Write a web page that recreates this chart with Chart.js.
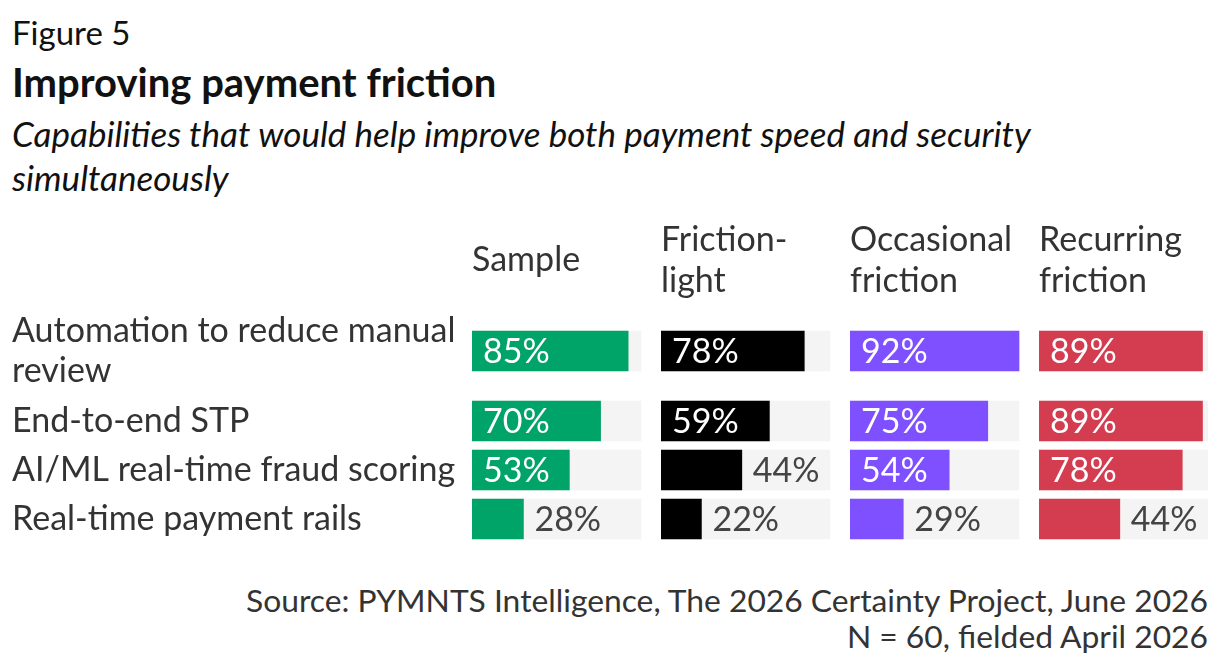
<!DOCTYPE html>
<html>
<head>
<meta charset="utf-8">
<script src="https://cdn.jsdelivr.net/npm/chart.js@4.4.1/dist/chart.umd.min.js"></script>
<style>
  body { margin: 0; background: #fff; font-family: Lato, sans-serif; }
  .page { position: relative; width: 1220px; height: 666px; overflow: hidden; }
  .fig { position: absolute; left: 12px; top: 12px; font-size: 33px; line-height: 40px; color: #111; }
  .title { position: absolute; left: 12px; top: 58px; font-size: 40px; line-height: 48px; font-weight: bold; color: #111; }
  .subtitle { position: absolute; left: 12px; top: 111px; width: 1100px; font-size: 35px; line-height: 44px; font-style: italic; color: #111; }
  .chartBox { position: absolute; left: 0; top: 210px; width: 1220px; height: 345px; }
  .source { position: absolute; right: 12px; top: 582px; font-size: 31.8px; line-height: 36px; text-align: right; color: #333; }
</style>
</head>
<body>
<div class="page">
  <div class="fig">Figure 5</div>
  <div class="title">Improving payment friction</div>
  <div class="subtitle">Capabilities that would help improve both payment speed and security simultaneously</div>
  <div class="chartBox"><canvas id="grafico"></canvas></div>
  <div class="source">Source: PYMNTS Intelligence, The 2026 Certainty Project, June 2026<br>N = 60, fielded April 2026</div>
</div>
<script>
// capabilities (rows), label lines as shown
const capacidades = [
  ["Automation to reduce manual", "review"],
  ["End-to-end STP"],
  ["AI/ML real-time fraud scoring"],
  ["Real-time payment rails"]
];

// segments (panels), header lines
const grupos = [["Sample"], ["Friction-", "light"], ["Occasional", "friction"], ["Recurring", "friction"]];

// share of respondents (%)
const muestra = [85, 70, 53, 28];
const friccionLeve = [78, 59, 44, 22];
const friccionOcasional = [92, 75, 54, 29];
const friccionRecurrente = [89, 89, 78, 44];

const series = [muestra, friccionLeve, friccionOcasional, friccionRecurrente];
const colores = ["#00A468", "#000000", "#7F50FF", "#D43C50"];

document.addEventListener("DOMContentLoaded", () => {
  const fuente = "Lato";
  const tam = 34;
  Chart.defaults.font.family = fuente;

  // row heights follow label line count
  const altos = capacidades.map(c => c.length * 42 + 7);
  const centros = [];
  let acum = 0;
  altos.forEach(h => { centros.push(acum + h / 2); acum += h; });
  const totalAlto = acum;

  const maxPista = Math.max(...series.flat());
  const hueco = maxPista * 20 / 169;   // gap between panels in value units
  const maxHeaderLines = Math.max(...grupos.map(g => g.length));

  const datasets = [];
  const scales = {
    y: {
      type: "linear",
      reverse: true,
      offset: false,
      min: 0,
      max: totalAlto,
      grid: { display: false },
      border: { display: false },
      afterBuildTicks: s => { s.ticks = centros.map(v => ({ value: v })); },
      afterFit: s => {
        s.width = 460;
        s.paddingTop = 0;
        s.paddingBottom = 0;
      },
      ticks: {
        autoSkip: false,
        crossAlign: "far",
        color: "#333",
        font: { size: tam, lineHeight: 1.18 },
        callback: (v, i) => capacidades[i]
      }
    }
  };

  // top boxes are laid out last-first, so add the panel axes in reverse
  for (let p = series.length - 1; p >= 0; p--) {
    const maxEje = p < series.length - 1 ? maxPista + hueco : maxPista;
    scales["x" + p] = {
      type: "linear",
      position: "top",
      stack: "paneles",
      stackWeight: maxEje,
      min: 0,
      max: maxEje,
      grid: { display: false, drawTicks: false },
      border: { display: false },
      ticks: { display: false },
      title: {
        display: true,
        text: grupos[p],
        align: "start",
        color: "#333",
        font: { size: tam, lineHeight: 1.2 },
        padding: { top: (maxHeaderLines - grupos[p].length) * 41 / 2, bottom: 9.5 }
      }
    };
  }

  series.forEach((vals, p) => {
    const ejeId = "x" + p;
    datasets.push({
      label: grupos[p].join(" "),
      esValor: true,
      data: vals.map((v, i) => ({ x: v, y: centros[i] })),
      backgroundColor: colores[p],
      xAxisID: ejeId,
      yAxisID: "y",
      barThickness: 40,
      grouped: false,
      order: 1
    });
    datasets.push({
      label: "pista",
      data: vals.map((v, i) => ({ x: maxPista, y: centros[i] })),
      backgroundColor: "#F4F4F4",
      xAxisID: ejeId,
      yAxisID: "y",
      barThickness: 40,
      grouped: false,
      order: 2
    });
  });

  const etiquetas = {
    id: "etiquetas",
    afterDatasetsDraw(chart) {
      const ctx = chart.ctx;
      ctx.save();
      ctx.font = tam + "px " + fuente;
      ctx.textBaseline = "middle";
      ctx.textAlign = "left";
      chart.data.datasets.forEach((ds, di) => {
        if (!ds.esValor) return;
        chart.getDatasetMeta(di).data.forEach((bar, i) => {
          const txt = ds.data[i].x + "%";
          const w = ctx.measureText(txt).width;
          const pad = 11;
          if (bar.x - bar.base >= w + pad * 2) {
            ctx.fillStyle = "#ffffff";
            ctx.fillText(txt, bar.base + pad, bar.y + 1);
          } else {
            ctx.fillStyle = "#444";
            ctx.fillText(txt, bar.x + pad, bar.y + 1);
          }
        });
      });
      ctx.restore();
    }
  };

  const dibujar = () => {
    const ctx = document.getElementById("grafico").getContext("2d");
    new Chart(ctx, {
      type: "bar",
      data: { datasets },
      options: {
        indexAxis: "y",
        responsive: true,
        maintainAspectRatio: false,
        animation: false,
        layout: { padding: { left: 12, right: 12, top: 9.5, bottom: 11.5 } },
        plugins: { legend: { display: false }, tooltip: { enabled: false } },
        scales
      },
      plugins: [etiquetas]
    });
  };

  document.fonts.load(tam + "px Lato").then(dibujar, dibujar);
});
</script>
</body>
</html>
